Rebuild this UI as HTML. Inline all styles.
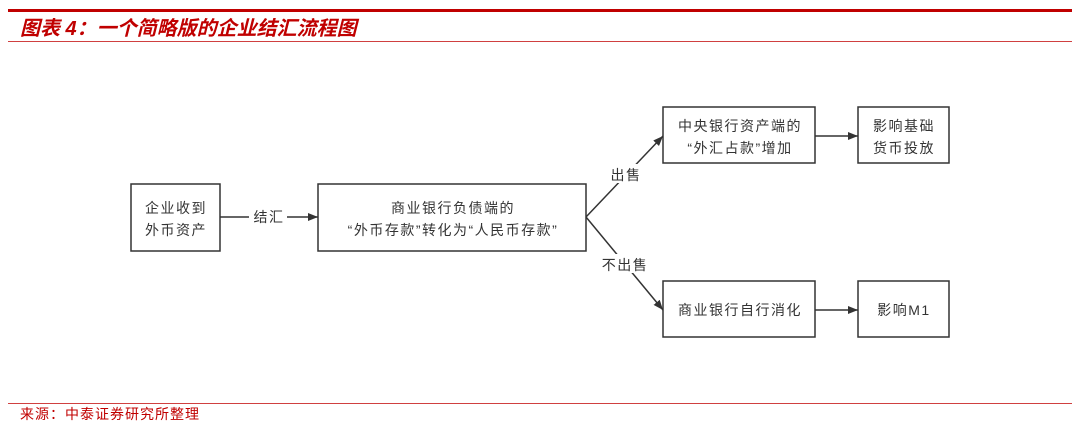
<!DOCTYPE html>
<html><head><meta charset="utf-8"><style>
body{margin:0;width:1080px;height:427px;background:#fff;overflow:hidden;font-family:"Liberation Sans","Noto Sans CJK SC",sans-serif}
</style></head><body>
<svg width="1080" height="427" xmlns="http://www.w3.org/2000/svg" style="position:absolute;left:0;top:0">
<defs><marker id="a" markerWidth="10" markerHeight="8" refX="10" refY="4" orient="auto" markerUnits="userSpaceOnUse"><path d="M0,0L10,4L0,8z" fill="#333"/></marker></defs>
<rect x="8" y="9" width="1064" height="3" fill="#c00000"/>
<text x="20" y="35" font-size="20" font-weight="bold" font-style="italic" fill="#c00000" font-family="Liberation Sans,Noto Sans CJK SC,sans-serif">图表 4：一个简略版的企业结汇流程图</text>
<rect x="8" y="41" width="1064" height="1" fill="#d04040"/>
<rect x="8" y="403" width="1064" height="1" fill="#d04040"/>
<text x="20" y="419" font-size="14" fill="#c00000" letter-spacing="1">来源：中泰证券研究所整理</text>
<g fill="none" stroke="#333" stroke-width="1.5">
<rect x="131" y="184" width="89" height="67"/>
<rect x="318" y="184" width="268" height="67"/>
<rect x="663" y="107" width="152" height="56"/>
<rect x="858" y="107" width="91" height="56"/>
<rect x="663" y="281" width="152" height="56"/>
<rect x="858" y="281" width="91" height="56"/>
<line x1="220" y1="217" x2="318" y2="217" marker-end="url(#a)"/>
<line x1="586" y1="217" x2="663" y2="136" marker-end="url(#a)"/>
<line x1="586" y1="217" x2="663" y2="310" marker-end="url(#a)"/>
<line x1="815" y1="136" x2="858" y2="136" marker-end="url(#a)"/>
<line x1="815" y1="310" x2="858" y2="310" marker-end="url(#a)"/>
</g>
<g font-size="14" fill="#333" text-anchor="middle" letter-spacing="1.5">
<text x="176" y="213">企业收到</text><text x="176" y="235">外币资产</text>
<rect x="249" y="208" width="38" height="18" fill="#fff"/>
<text x="269" y="222">结汇</text>
<text x="453" y="213">商业银行负债端的</text><text x="453" y="235">“外币存款”转化为“人民币存款”</text>
<text x="740" y="131">中央银行资产端的</text><text x="740" y="153">“外汇占款”增加</text>
<text x="904" y="131">影响基础</text><text x="904" y="153">货币投放</text>
<text x="740" y="315">商业银行自行消化</text>
<text x="904" y="315">影响M1</text>
<rect x="608" y="164" width="36" height="19" fill="#fff"/>
<text x="626" y="180">出售</text>
<rect x="601" y="254" width="48" height="19" fill="#fff"/>
<text x="625" y="270">不出售</text>
</g>
</svg>
</body></html>
